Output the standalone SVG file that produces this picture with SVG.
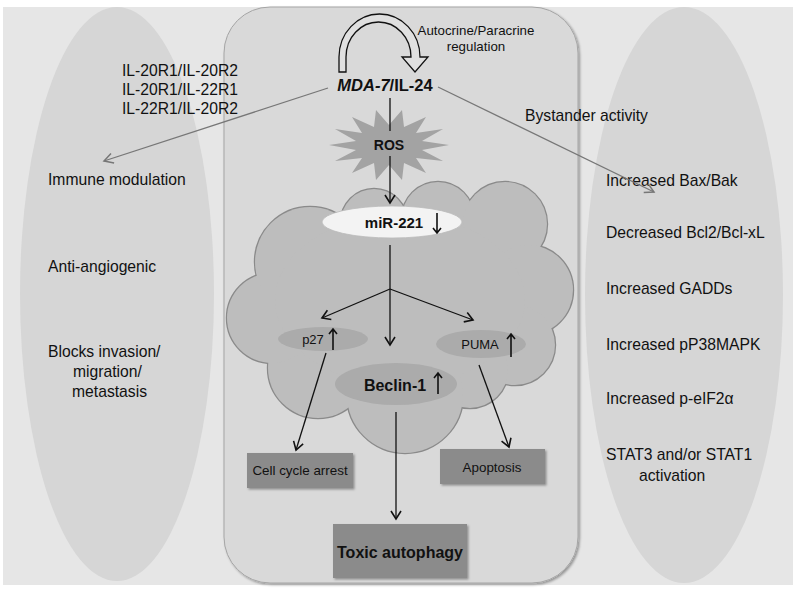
<svg xmlns="http://www.w3.org/2000/svg" xmlns:xlink="http://www.w3.org/1999/xlink" width="800" height="594" viewBox="0 0 800 594">
<style>
text{font-family:"Liberation Sans",Arial,sans-serif;fill:#111}
.t14{font-size:15.7px}
.t12{font-size:13.3px}
.b{font-weight:bold}
.conn{fill:none;stroke:#111;stroke-width:1.3}
.gconn{fill:none;stroke:#777;stroke-width:1.3}
.box{fill:#8b8b8b}
.oval{fill:#ababab}
.ind{fill:none;stroke:#111;stroke-width:1.6}
.cloudOut{fill:#bdbdbd;stroke:#8a8a8a;stroke-width:2.4}
.cloudIn{fill:#bdbdbd;stroke:none}
</style>
<defs>
<marker id="ah" markerUnits="userSpaceOnUse" markerWidth="20" markerHeight="20" viewBox="-10 -10 20 20" refX="0" refY="0" orient="auto">
<path d="M-8,-5 L0,0 L-8,5" fill="none" stroke="#111" stroke-width="1.6"/>
</marker>
<marker id="ahg" markerUnits="userSpaceOnUse" markerWidth="20" markerHeight="20" viewBox="-10 -10 20 20" refX="0" refY="0" orient="auto">
<path d="M-9,-5 L0,0 L-9,5" fill="none" stroke="#777" stroke-width="1.5"/>
</marker>
<filter id="sh" x="-10%" y="-10%" width="130%" height="130%">
<feDropShadow dx="1.5" dy="1.5" stdDeviation="1.2" flood-color="#000" flood-opacity="0.35"/>
</filter>
<g id="cloudShapes">
<circle cx="374" cy="222" r="33"/>
<circle cx="438" cy="218" r="36"/>
<circle cx="505" cy="224" r="42"/>
<circle cx="528" cy="290" r="45"/>
<circle cx="515" cy="345" r="40"/>
<circle cx="470" cy="370" r="38"/>
<circle cx="405" cy="395" r="58"/>
<circle cx="318" cy="368" r="50"/>
<circle cx="272" cy="318" r="45"/>
<circle cx="310" cy="262" r="55"/>
<ellipse cx="400" cy="300" rx="125" ry="85"/>
</g>
</defs>

<rect x="3" y="7" width="790" height="578" fill="#e6e6e6"/>

<g id="left-panel">
<ellipse cx="117" cy="294" rx="97" ry="287" fill="#d6d6d6"/>
<text class="t14" x="48" y="185">Immune modulation</text>
<text class="t14" x="48" y="272">Anti-angiogenic</text>
<text class="t14" x="48" y="357">Blocks invasion/</text>
<text class="t14" x="73" y="377">migration/</text>
<text class="t14" x="72" y="397">metastasis</text>
</g>

<g id="right-panel">
<ellipse cx="684" cy="295" rx="99" ry="288" fill="#d6d6d6"/>
<text class="t14" x="606" y="186">Increased Bax/Bak</text>
<text class="t14" x="606" y="238">Decreased Bcl2/Bcl-xL</text>
<text class="t14" x="606" y="294">Increased GADDs</text>
<text class="t14" x="606" y="350">Increased pP38MAPK</text>
<text class="t14" x="606" y="404">Increased p-eIF2α</text>
<text class="t14" x="606" y="460">STAT3 and/or STAT1</text>
<text class="t14" x="639" y="481">activation</text>
</g>

<g id="center-panel">
<rect x="224" y="7" width="354" height="576" rx="46" ry="46" fill="#d9d9d9" stroke="#a5a5a5" stroke-width="1" filter="url(#sh)"/>
</g>

<g id="receptors">
<text class="t14" x="122" y="76">IL-20R1/IL-20R2</text>
<text class="t14" x="122" y="95">IL-20R1/IL-22R1</text>
<text class="t14" x="122" y="114">IL-22R1/IL-20R2</text>
</g>

<g id="bystander">
<text class="t14" x="525" y="121">Bystander activity</text>
</g>

<g id="autocrine">
<path d="M339,72 L339,57 A40.5,43 0 0 1 420,57 L428,57 L415,72 L402,57 L411,57 A32.5,35 0 0 0 346,57 L346,72 Z" fill="#e0e0e0" stroke="#111" stroke-width="1.3" stroke-linejoin="miter"/>
<text class="t12" x="476" y="35" text-anchor="middle">Autocrine/Paracrine</text>
<text class="t12" x="476" y="51" text-anchor="middle">regulation</text>
</g>

<g id="mda7">
<text class="b" x="385" y="91" text-anchor="middle" style="font-size:16.5px"><tspan font-style="italic">MDA-7</tspan>/IL-24</text>
</g>

<g id="ros">
<polygon fill="#a3a3a3" points="449,145 422,150 443,161 416,158 426,173 404,163 402,180 389,165 376,180 374,163 352,173 362,158 335,161 356,150 329,145 356,141 335,129 362,133 352,117 374,127 376,110 389,125 402,110 404,127 426,117 416,133 443,129 422,141"/>
<text class="b" x="389" y="150" text-anchor="middle" style="font-size:14px">ROS</text>
</g>

<g id="cloud">
<use xlink:href="#cloudShapes" class="cloudOut"/>
<use xlink:href="#cloudShapes" class="cloudIn"/>
</g>

<g id="mir221">
<ellipse cx="392" cy="222" rx="70" ry="16" fill="#f3f3f3" stroke="#bbb" stroke-width="0.8"/>
<text class="b" x="394" y="228" text-anchor="middle" style="font-size:15px">miR-221</text>
<path class="ind" d="M437,213 V233 M433,228 L437,233 L441,228"/>
</g>

<g id="p27">
<ellipse class="oval" cx="323" cy="339" rx="45" ry="12"/>
<text x="313" y="344" text-anchor="middle" style="font-size:13px">p27</text>
<path class="ind" d="M333,350 V329 M329,334 L333,329 L337,334"/>
</g>

<g id="puma">
<ellipse class="oval" cx="481" cy="344" rx="45" ry="14"/>
<text x="480" y="349" text-anchor="middle" style="font-size:13px">PUMA</text>
<path class="ind" d="M511,357 V334 M507,339 L511,334 L515,339"/>
</g>

<g id="beclin1">
<ellipse class="oval" cx="396" cy="384" rx="61" ry="21"/>
<text class="b" x="395" y="391" text-anchor="middle" style="font-size:16px">Beclin-1</text>
<path class="ind" d="M438,394 V373 M434,378 L438,373 L442,378"/>
</g>

<g id="cell-cycle-arrest">
<rect class="box" x="247" y="453" width="106" height="35" filter="url(#sh)"/>
<text x="300" y="475" text-anchor="middle" style="font-size:13.4px">Cell cycle arrest</text>
</g>

<g id="apoptosis">
<rect class="box" x="440" y="449" width="105" height="35" filter="url(#sh)"/>
<text x="492" y="472" text-anchor="middle" style="font-size:13.4px">Apoptosis</text>
</g>

<g id="toxic-autophagy">
<rect class="box" x="333" y="524" width="134" height="54" filter="url(#sh)"/>
<text class="b" x="400" y="558" text-anchor="middle" style="font-size:16px">Toxic autophagy</text>
</g>

<g id="connectors">
<path class="gconn" d="M328,88 L104,161" marker-end="url(#ahg)"/>
<path class="gconn" d="M438,87 L654,192" marker-end="url(#ahg)"/>
<path class="conn" d="M390,98 V131 M390,156 V203" marker-end="url(#ah)"/>
<path class="conn" d="M390,245 V289"/>
<path class="conn" d="M390,289 L322,318" marker-end="url(#ah)"/>
<path class="conn" d="M390,289 V345" marker-end="url(#ah)"/>
<path class="conn" d="M390,289 L473,320" marker-end="url(#ah)"/>
<path class="conn" d="M326,353 L296,450" marker-end="url(#ah)"/>
<path class="conn" d="M396,412 V519" marker-end="url(#ah)"/>
<path class="conn" d="M479,365 L509,447" marker-end="url(#ah)"/>
</g>
</svg>
